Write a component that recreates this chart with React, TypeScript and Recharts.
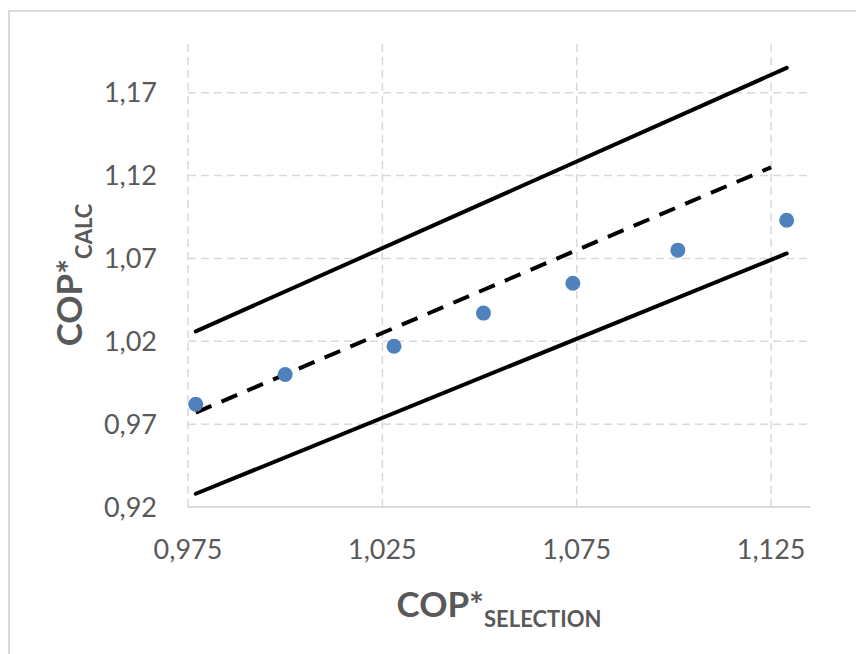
import React from "react";
import { ScatterChart, Scatter, XAxis, YAxis, ReferenceLine } from "recharts";

// measured points
const selection = [0.977, 1.0, 1.028, 1.051, 1.074, 1.101, 1.129];
const calc = [0.982, 1.0, 1.017, 1.037, 1.055, 1.075, 1.093];

// reference lines: +5%, y = x, -5%
const bandX = [0.977, 1.129];
const upperY = [1.026, 1.185];
const lowerY = [0.928, 1.073];
const idealX = [0.977, 1.125];
const idealY = [0.977, 1.125];

const xTicks = [0.975, 1.025, 1.075, 1.125];
const yTicks = [0.92, 0.97, 1.02, 1.07, 1.12, 1.17];

const points = selection.map((x, i) => ({ x, y: calc[i] }));
const upper = bandX.map((x, i) => ({ x, y: upperY[i] }));
const lower = bandX.map((x, i) => ({ x, y: lowerY[i] }));
const ideal = idealX.map((x, i) => ({ x, y: idealY[i] }));

const FONT = "Lato, 'Open Sans', sans-serif";
const GREY = "#595959";
const GRID = "#d9d9d9";

const Dot = (props: any) => (
  <circle cx={props.cx} cy={props.cy} r={7.5} fill="#4f81bd" />
);
const NoDot = () => <g />;

const XLabel = ({ viewBox }: any) => {
  const cx = viewBox.x + viewBox.width / 2;
  return (
    <text x={cx} y={617} textAnchor="middle" fill={GREY} fontFamily={FONT} fontWeight="bold">
      <tspan fontSize={35}>COP*</tspan>
      <tspan fontSize={22} dy={10}>SELECTION</tspan>
    </text>
  );
};

const YLabel = ({ viewBox }: any) => {
  const cy = viewBox.y + viewBox.height / 2;
  return (
    <text
      x={82}
      y={cy}
      transform={`rotate(-90, 82, ${cy})`}
      textAnchor="middle"
      fill={GREY}
      fontFamily={FONT}
      fontWeight="bold"
    >
      <tspan fontSize={35}>COP*</tspan>
      <tspan fontSize={22} dy={10}>CALC</tspan>
    </text>
  );
};

export default function App() {
  const lineStyle = { stroke: "#000", strokeWidth: 4, strokeLinecap: "round" as const };
  return (
    <div style={{ position: "relative", width: 856, height: 646, overflow: "hidden" }}>
      <div
        style={{
          position: "absolute",
          left: 0,
          top: 2,
          width: 856,
          height: 644,
          borderTop: `2px solid ${GRID}`,
          borderLeft: `2px solid ${GRID}`,
          boxSizing: "border-box",
        }}
      />
      <div style={{ position: "absolute", left: -8, top: -8 }}>
        <ScatterChart width={864} height={654} margin={{ top: 43, right: 54, bottom: 87, left: 0 }}>
          <XAxis
            type="number"
            dataKey="x"
            domain={[0.975, 1.135]}
            ticks={xTicks}
            allowDataOverflow
            height={60}
            tickLine={false}
            axisLine={{ stroke: GRID, strokeWidth: 2 }}
            tickMargin={27}
            tick={{ fill: GREY, fontSize: 27, fontFamily: FONT }}
            tickFormatter={(v: number) => v.toFixed(3).replace(".", ",")}
            label={<XLabel />}
          />
          <YAxis
            type="number"
            dataKey="y"
            domain={[0.92, 1.2]}
            ticks={yTicks}
            allowDataOverflow
            width={188}
            tickLine={false}
            axisLine={false}
            tickMargin={25}
            tick={{ fill: GREY, fontSize: 27, fontFamily: FONT }}
            tickFormatter={(v: number) => v.toFixed(2).replace(".", ",")}
            label={<YLabel />}
          />
          {xTicks.map((t) => (
            <ReferenceLine key={`vx${t}`} x={t} stroke={GRID} strokeWidth={1.5} strokeDasharray="8 5" />
          ))}
          {yTicks.slice(1).map((t) => (
            <ReferenceLine key={`hy${t}`} y={t} stroke={GRID} strokeWidth={1.5} strokeDasharray="8 5" />
          ))}
          <Scatter data={upper} line={lineStyle} shape={NoDot} isAnimationActive={false} />
          <Scatter data={lower} line={lineStyle} shape={NoDot} isAnimationActive={false} />
          <Scatter
            data={ideal}
            line={{ ...lineStyle, strokeDasharray: "17 11", strokeLinecap: "butt" }}
            shape={NoDot}
            isAnimationActive={false}
          />
          <Scatter data={points} shape={Dot} isAnimationActive={false} />
        </ScatterChart>
      </div>
    </div>
  );
}
